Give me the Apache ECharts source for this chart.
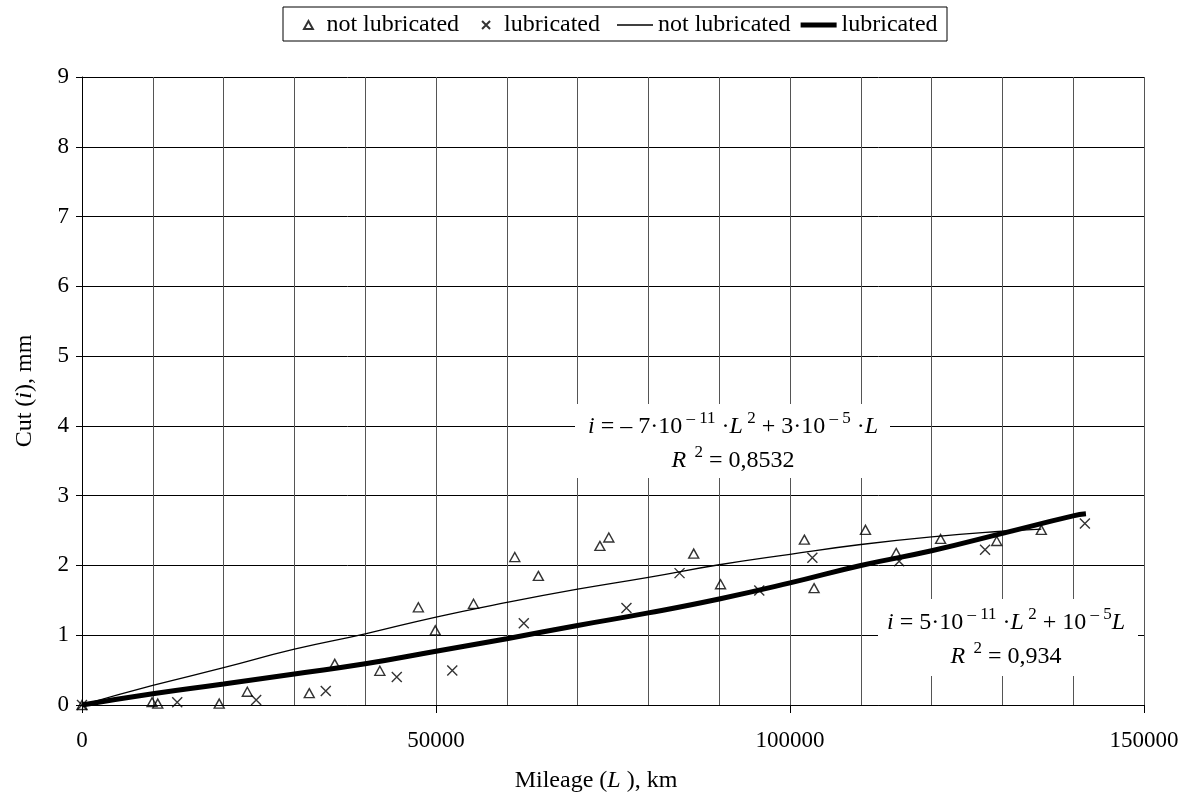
<!DOCTYPE html>
<html><head><meta charset="utf-8">
<script src="https://cdn.jsdelivr.net/npm/echarts@6/dist/echarts.min.js"></script>
<style>html,body{margin:0;padding:0;background:#fff}#c{width:1190px;height:801px}</style>
</head><body><div id="c"></div>
<script>
// ---- data ----
const notLubL = [0, 9900, 10700, 19380, 23350, 32100, 35700, 42070, 47510, 49900, 55300, 61130, 64460, 73150, 74410, 86400, 90190, 102030, 103400, 110660, 115000, 121270, 129200, 135500];
const notLubCut = [0, 0.04, 0.02, 0.02, 0.19, 0.17, 0.59, 0.49, 1.40, 1.07, 1.45, 2.12, 1.85, 2.28, 2.40, 2.17, 1.73, 2.37, 1.675, 2.51, 2.18, 2.38, 2.35, 2.51];
const lubL = [0, 13450, 24600, 34430, 44460, 52300, 62400, 76900, 84400, 95660, 103160, 115420, 127550, 141650];
const lubCut = [0, 0.04, 0.07, 0.20, 0.40, 0.495, 1.17, 1.39, 1.89, 1.64, 2.11, 2.06, 2.225, 2.60];
// trend lines as drawn in the picture
const notLubFitL = [0, 10000, 20000, 30000, 40000, 50000, 60000, 70000, 80000, 90000, 100000, 110000, 120000, 130000, 135500];
const notLubFitCut = [0, 0.28, 0.535, 0.80, 1.02, 1.26, 1.47, 1.66, 1.83, 2.01, 2.16, 2.30, 2.41, 2.49, 2.52];
const lubFitL = [0, 10000, 20000, 30000, 40000, 50000, 60000, 70000, 80000, 90000, 100000, 110000, 120000, 130000, 140000, 141800];
const lubFitCut = [0, 0.16, 0.30, 0.445, 0.59, 0.77, 0.95, 1.14, 1.32, 1.52, 1.75, 2.0, 2.21, 2.46, 2.71, 2.74];
const xTickLabels = [0, 50000, 100000, 150000];
const yTickLabels = [0, 1, 2, 3, 4, 5, 6, 7, 8, 9];
const legendLabels = {nlPts: 'not lubricated', lPts: 'lubricated', nlFit: 'not lubricated', lFit: 'lubricated'};

const FONT = "'Liberation Serif','Times New Roman',serif";
const zip = (a, b) => a.map((v, i) => [v, b[i]]);
const xPath = 'path://M0,0L10,10M10,0L0,10';
const triPath = 'path://M5,0L10,9L0,9Z';
const thinPath = 'path://M0,0H36V1.3H0Z';
const thickPath = 'path://M0,0H36V5H0Z';
const legendText = {fontFamily: FONT, fontSize: 24, color: '#000', lineHeight: 26};

const chart = echarts.init(document.getElementById('c'));
chart.setOption({
  backgroundColor: '#fff',
  animation: false,
  grid: {left: 82, right: 46, top: 77, bottom: 96, containLabel: false},
  legend: [{
    top: 12, left: 303, padding: 0,
    selectedMode: false, symbolKeepAspect: true,
    itemWidth: 26, itemHeight: 8, itemGap: 22,
    textStyle: legendText,
    formatter: n => legendLabels[n],
    data: [{name: 'nlPts', icon: triPath}, {name: 'lPts', icon: xPath}]
  }, {
    top: 12, left: 617, padding: 0,
    selectedMode: false, symbolKeepAspect: true,
    itemWidth: 36, itemHeight: 5, itemGap: 10,
    textStyle: legendText,
    formatter: n => legendLabels[n],
    data: [{name: 'nlFit', icon: thinPath}, {name: 'lFit', icon: thickPath}]
  }],
  xAxis: {
    type: 'value', min: xTickLabels[0], max: xTickLabels[xTickLabels.length - 1], interval: 50000,
    name: '{n|Mileage (}{it|L}{n| ), km}', nameLocation: 'middle', nameGap: 64,
    nameTextStyle: {padding: [0, 34, 0, 0], rich: {n: {fontFamily: FONT, fontSize: 24, color: '#000'}, it: {fontFamily: FONT, fontSize: 24, fontStyle: 'italic', color: '#000'}}},
    axisLine: {show: true, lineStyle: {color: '#000', width: 1}},
    axisTick: {show: true, length: 8, lineStyle: {color: '#000'}},
    axisLabel: {fontFamily: FONT, fontSize: 23, color: '#000', margin: 24, formatter: v => String(v)},
    splitLine: {show: true, lineStyle: {color: '#555', width: 1}},
    minorTick: {show: false, splitNumber: 5},
    minorSplitLine: {show: true, lineStyle: {color: '#555', width: 1}}
  },
  yAxis: {
    type: 'value', min: yTickLabels[0], max: yTickLabels[yTickLabels.length - 1], interval: 1,
    name: '{n|Cut (}{it|i}{n|), mm}', nameLocation: 'middle', nameGap: 45,
    nameTextStyle: {rich: {n: {fontFamily: FONT, fontSize: 24, color: '#000'}, it: {fontFamily: FONT, fontSize: 24, fontStyle: 'italic', color: '#000'}}},
    axisLine: {show: true, lineStyle: {color: '#000', width: 1}},
    axisTick: {show: true, length: 6, lineStyle: {color: '#000'}},
    axisLabel: {fontFamily: FONT, fontSize: 23, color: '#000', margin: 13},
    splitLine: {show: true, lineStyle: {color: '#000', width: 1}}
  },
  series: [
    {name: 'nlFit', type: 'line', data: zip(notLubFitL, notLubFitCut), smooth: true, symbol: 'none',
      lineStyle: {color: '#000', width: 1.3}, itemStyle: {color: '#000'}, z: 3},
    {name: 'lFit', type: 'line', data: zip(lubFitL, lubFitCut), smooth: true, symbol: 'none',
      lineStyle: {color: '#000', width: 5}, itemStyle: {color: '#000'}, z: 3},
    {name: 'nlPts', type: 'scatter', data: zip(notLubL, notLubCut), symbol: triPath, symbolSize: [10, 9],
      itemStyle: {color: 'rgba(255,255,255,0)', borderColor: '#000', borderWidth: 1.4}, z: 4},
    {name: 'lPts', type: 'scatter', data: zip(lubL, lubCut), symbol: xPath, symbolSize: 10,
      itemStyle: {color: 'rgba(255,255,255,0)', borderColor: '#000', borderWidth: 1.4}, z: 4}
  ]
});

const rich = {
  n: {fontFamily: FONT, fontSize: 24, color: '#000', lineHeight: 34},
  it: {fontFamily: FONT, fontSize: 24, fontStyle: 'italic', color: '#000', lineHeight: 34},
  sup: {fontFamily: FONT, fontSize: 17, color: '#000', lineHeight: 22, verticalAlign: 'top'}
};
chart.setOption({
  graphic: [
    {type: 'rect', shape: {x: 283, y: 7, width: 664, height: 34}, style: {fill: 'none', stroke: '#000', lineWidth: 1}, z: 10},
    {type: 'rect', shape: {x: 575, y: 404, width: 315, height: 74}, style: {fill: '#fff'}, z: 10},
    {type: 'text', x: 733, y: 444, z: 11, style: {
      text: '{it|i}{n| = – 7·10}{sup| – 11}{n| ·}{it|L}{sup| 2}{n| + 3·10}{sup| – 5}{n| ·}{it|L}\n{it|R}{sup|  2}{n| = 0,8532}',
      rich: rich, align: 'center', verticalAlign: 'middle'}},
    {type: 'rect', shape: {x: 878, y: 599, width: 260, height: 77}, style: {fill: '#fff'}, z: 10},
    {type: 'text', x: 1006, y: 640, z: 11, style: {
      text: '{it|i}{n| = 5·10}{sup| – 11}{n| ·}{it|L}{sup| 2}{n| + 10}{sup| – 5}{it|L}\n{it|R}{sup|  2}{n| = 0,934}',
      rich: rich, align: 'center', verticalAlign: 'middle'}}
  ]
});
</script></body></html>
